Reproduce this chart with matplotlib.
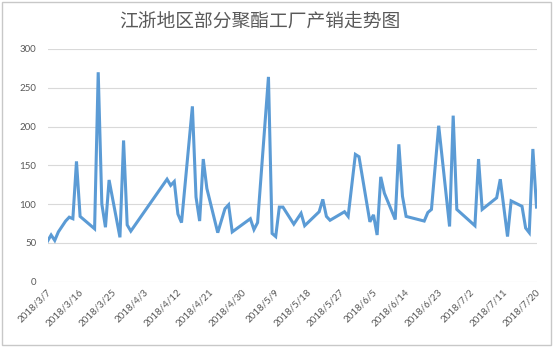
import matplotlib
matplotlib.use("Agg")
import matplotlib.pyplot as plt
import matplotlib.transforms as mtransforms
from matplotlib.patches import Rectangle
import pandas as pd

title = "江浙地区部分聚酯工厂产销走势图"
dates = ["2018-03-07", "2018-03-08", "2018-03-09", "2018-03-10", "2018-03-12", "2018-03-13",
         "2018-03-14", "2018-03-15", "2018-03-16", "2018-03-20", "2018-03-21", "2018-03-22",
         "2018-03-23", "2018-03-24", "2018-03-27", "2018-03-28", "2018-03-29", "2018-03-30",
         "2018-04-09", "2018-04-10", "2018-04-11", "2018-04-12", "2018-04-13", "2018-04-16",
         "2018-04-17", "2018-04-18", "2018-04-19", "2018-04-20", "2018-04-23", "2018-04-25",
         "2018-04-26", "2018-04-27", "2018-05-02", "2018-05-03", "2018-05-04", "2018-05-07",
         "2018-05-08", "2018-05-09", "2018-05-10", "2018-05-11", "2018-05-14", "2018-05-16",
         "2018-05-17", "2018-05-21", "2018-05-22", "2018-05-23", "2018-05-24", "2018-05-28",
         "2018-05-29", "2018-05-31", "2018-06-01", "2018-06-04", "2018-06-05", "2018-06-06",
         "2018-06-07", "2018-06-08", "2018-06-11", "2018-06-12", "2018-06-13", "2018-06-14",
         "2018-06-19", "2018-06-20", "2018-06-21", "2018-06-23", "2018-06-26", "2018-06-27",
         "2018-06-28", "2018-07-03", "2018-07-04", "2018-07-05", "2018-07-09", "2018-07-10",
         "2018-07-12", "2018-07-13", "2018-07-16", "2018-07-17", "2018-07-18", "2018-07-19",
         "2018-07-20"]
values = [52, 60, 53, 64, 78, 83,
          81, 155, 84, 68, 270, 100,
          70, 131, 57, 182, 73, 65,
          132, 124, 129, 87, 76, 226,
          109, 78, 158, 120, 63, 94,
          99, 64, 81, 67, 76, 264,
          62, 58, 96, 96, 74, 88,
          72, 90, 106, 84, 79, 90,
          84, 164, 161, 77, 86, 60,
          135, 114, 80, 177, 110, 84,
          78, 89, 93, 201, 71, 214,
          93, 72, 158, 93, 108, 132,
          58, 104, 97, 69, 63, 171,
          96]
y_ticks = [0, 50, 100, 150, 200, 250, 300]
x_start, x_end, x_step = "2018-03-07", "2018-07-20", "9D"

plt.rcParams['font.family'] = ['Lato', 'DejaVu Sans']

fig = plt.figure(figsize=(5.54, 3.47), dpi=100)
fig.patch.set_facecolor('white')
ax = fig.add_axes([47.5/554, (347-281.5)/347, 489/554, 232.5/347])

d = pd.to_datetime(dates)
ax.plot(d, values, color='#5B9BD5', linewidth=2.2, solid_joinstyle='miter', zorder=3)

ax.set_xlim(pd.Timestamp(x_start), pd.Timestamp(x_end))
ax.set_ylim(0, 300)
ax.set_yticks(y_ticks)
ax.yaxis.grid(True, color='#D9D9D9', linewidth=0.8)
ax.set_axisbelow(True)
for s in ax.spines.values():
    s.set_visible(False)
ax.tick_params(axis='both', length=0, colors='#595959', labelsize=7)
ax.tick_params(axis='y', pad=8)

ticks = pd.date_range(x_start, x_end, freq=x_step)
ax.set_xticks(ticks)
ax.set_xticklabels([f"{t.year}/{t.month}/{t.day}" for t in ticks], rotation=45,
                   ha='right', va='top')
ax.tick_params(axis='x', pad=4)
offset = mtransforms.ScaledTranslation(5/100, 0, fig.dpi_scale_trans)
for lab in ax.get_xticklabels():
    lab.set_transform(lab.get_transform() + offset)

fig.text(260/554, 1 - 21/347, title, ha='center', va='center', fontsize=13.5,
         color='#595959', family=['Noto Sans CJK SC', 'DejaVu Sans'], fontweight='medium')

fig.patches.append(Rectangle((1.5/554, 2.5/347), 549/554, 343/347, transform=fig.transFigure,
                             fill=False, edgecolor='#C8C8C8', linewidth=1.0))

fig.savefig("out.png", dpi=100, facecolor='white')
